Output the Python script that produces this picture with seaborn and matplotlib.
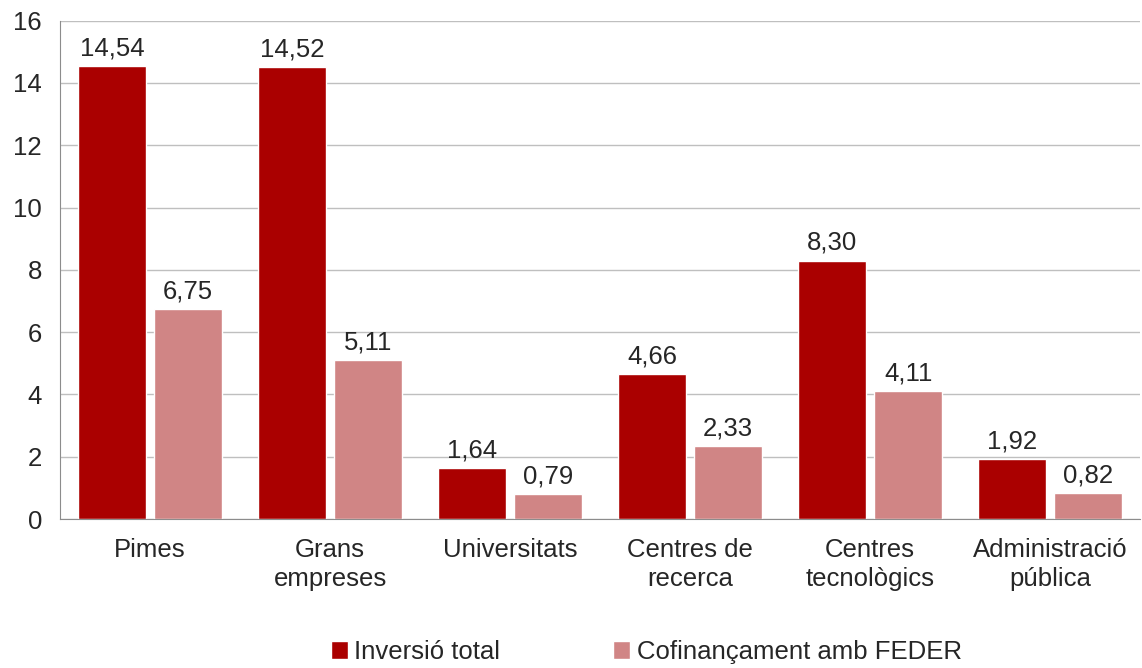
import matplotlib
matplotlib.use("Agg")
import matplotlib.pyplot as plt
import pandas as pd
import seaborn as sns

categories = ["Pimes", "Grans\nempreses", "Universitats", "Centres de\nrecerca",
              "Centres\ntecnològics", "Administració\npública"]
series_names = ["Inversió total", "Cofinançament amb FEDER"]
inversio_total = [14.54, 14.52, 1.64, 4.66, 8.30, 1.92]
cofinancament = [6.75, 5.11, 0.79, 2.33, 4.11, 0.82]
yticks = [0, 2, 4, 6, 8, 10, 12, 14, 16]

df = pd.DataFrame({
    "categoria": categories * 2,
    "serie": [series_names[0]] * len(categories) + [series_names[1]] * len(categories),
    "valor": inversio_total + cofinancament,
})

sns.set_style("white")
plt.rcParams["font.family"] = ["Liberation Sans", "DejaVu Sans"]
fs = 18.5

fig = plt.figure(figsize=(11.42, 6.68), dpi=100)
ax = fig.add_axes([0.0525, 0.223, 0.946, 0.746])

sns.barplot(data=df, x="categoria", y="valor", hue="serie",
            palette=["#AA0000", "#D08585"], width=0.844, gap=0.105,
            saturation=1, ax=ax, legend=True)

for cont in ax.containers:
    ax.bar_label(cont, labels=[f"{b.get_height():.2f}".replace(".", ",") for b in cont],
                 padding=4, fontsize=fs)

ax.set_ylim(0, 16)
ax.set_yticks(yticks)
ax.set_xlim(-0.5, len(categories) - 0.5)
ax.yaxis.grid(True, color="#BFBFBF", linewidth=1)
ax.set_axisbelow(True)
ax.set_xlabel("")
ax.set_ylabel("")
ax.tick_params(axis="both", length=0, labelsize=fs)
ax.tick_params(axis="y", pad=13)
ax.tick_params(axis="x", pad=14)
for lab in ax.get_xticklabels():
    lab.set_linespacing(1.25)
for side in ["top", "right"]:
    ax.spines[side].set_visible(False)
ax.spines["left"].set_color("#8C8C8C")
ax.spines["bottom"].set_color("#8C8C8C")

handles, labels = ax.get_legend_handles_labels()
ax.get_legend().remove()
fig.legend(handles, labels, loc="center", bbox_to_anchor=(0.566, 0.024), ncol=2,
           frameon=False, fontsize=fs, handlelength=0.65, handleheight=0.65,
           handletextpad=0.25, columnspacing=4.4)

fig.savefig("out.png", dpi=100)
